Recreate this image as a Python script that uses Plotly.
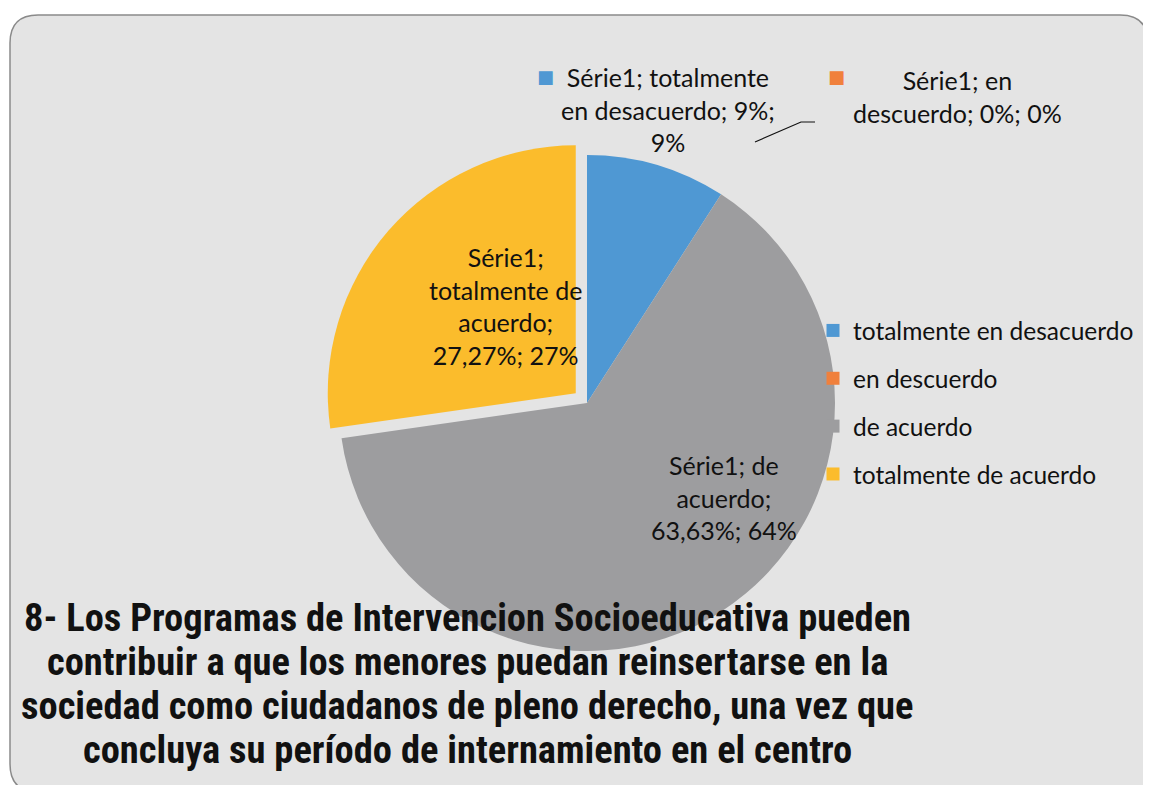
import plotly.graph_objects as go

# page is rendered with an 8px body margin, so positions below are page pixels
OFF = 8
W, H = 1151 - OFF, 785 - OFF

# data
categories = ["totalmente en desacuerdo", "en descuerdo", "de acuerdo", "totalmente de acuerdo"]
values = [9.09, 0.0, 63.63, 27.27]
pct_labels = ["9%", "0%", "63,63%", "27,27%"]
round_labels = ["9%", "0%", "64%", "27%"]
series_name = "Série1"
colors = ["#4F98D3", "#F0803C", "#9D9D9F", "#FBBC2C"]
pulls = [0, 0, 0, 0.06]

title_lines = [
    "8- Los Programas de Intervencion Socioeducativa pueden",
    "contribuir a que los menores puedan reinsertarse en la",
    "sociedad como ciudadanos de pleno derecho, una vez que",
    "concluya su período de internamiento en el centro",
]

FONT = "Lato, Open Sans, sans-serif"
TITLE_FONT = "Liberation Sans Narrow, Roboto Condensed, Lato, sans-serif"


def px(x):
    return (x - OFF) / W


def py(y):
    return 1 - (y - OFF) / H


fig = go.Figure()

# pie (center ~ (587, 403), radius ~248 px)
cx, cy, r = 587, 403, 248
half = r * (1 + max(pulls))
fig.add_trace(go.Pie(
    labels=categories, values=values, sort=False, direction="clockwise",
    rotation=0, pull=pulls, marker=dict(colors=colors, line=dict(width=0)),
    textinfo="none", hoverinfo="label+percent", showlegend=False,
    domain=dict(x=[px(cx - half), px(cx + half)], y=[py(cy + half), py(cy - half)]),
))

# legend entries (one group each so the spacing can be opened up)
for i, cat in enumerate(categories):
    fig.add_trace(go.Scatter(
        x=[None], y=[None], mode="markers", name=cat, legendgroup=cat,
        marker=dict(symbol="square", size=13, color=colors[i]),
    ))

# background panel with rounded corners
x0, y0, x1, y1, rc = px(10), py(15), px(1148), py(792), 28
path = (f"M {x0},{py(15 + rc)} Q {x0},{y0} {px(10 + rc)},{y0} "
        f"L {px(1148 - rc)},{y0} Q {x1},{y0} {x1},{py(15 + rc)} "
        f"L {x1},{y1} L {px(10 + rc)},{y1} Q {x0},{y1} {x0},{py(792 - rc)} Z")
fig.add_shape(type="path", path=path, xref="paper", yref="paper", layer="below",
              fillcolor="#E4E4E4", line=dict(color="#8A8A8A", width=1.5))

# data labels
label_specs = [
    (0, 668, 110, [f"{series_name}; totalmente", f"en desacuerdo; {pct_labels[0]};", round_labels[0]]),
    (1, 957, 96, [f"{series_name}; en", f"descuerdo; {pct_labels[1]}; {round_labels[1]}"]),
    (2, 724, 497, [f"{series_name}; de", "acuerdo;", f"{pct_labels[2]}; {round_labels[2]}"]),
    (3, 505, 306, [f"{series_name};", "totalmente de", "acuerdo;", f"{pct_labels[3]}; {round_labels[3]}"]),
]
for i, lx, ly, parts in label_specs:
    fig.add_annotation(x=px(lx), y=py(ly), xref="paper", yref="paper", showarrow=False,
                       xanchor="center", yanchor="middle",
                       text="<br>".join(parts), align="center",
                       font=dict(family=FONT, size=25, color="#111111"))

# legend keys next to the outside labels
for i, kx, ky in [(0, 545, 76), (1, 836, 76)]:
    fig.add_annotation(x=px(kx), y=py(ky), xref="paper", yref="paper", showarrow=False,
                       xanchor="center", yanchor="middle",
                       text="■", font=dict(family="DejaVu Sans", size=18, color=colors[i]))

# leader line for the small blue slice
fig.add_shape(type="path", xref="paper", yref="paper",
              path=f"M {px(755)},{py(142)} L {px(801)},{py(122)} L {px(815)},{py(122)}",
              line=dict(color="#111111", width=1.2))

# title, one line at a time to keep the tight line spacing
for k, t in enumerate(title_lines):
    fig.add_annotation(x=px(467), y=py(617 + 44 * k), xref="paper", yref="paper",
                       showarrow=False, xanchor="center", yanchor="middle",
                       text=f"<b>{t}</b>",
                       font=dict(family=TITLE_FONT, size=38.5, color="#111111"))

fig.update_layout(
    width=W, height=H, margin=dict(l=0, r=0, t=0, b=0),
    paper_bgcolor="white", plot_bgcolor="rgba(0,0,0,0)",
    xaxis=dict(visible=False), yaxis=dict(visible=False),
    legend=dict(x=px(813), y=py(308), xanchor="left", yanchor="top",
                traceorder="grouped", tracegroupgap=13, itemwidth=30,
                bgcolor="rgba(0,0,0,0)", font=dict(family=FONT, size=24.5, color="#111111")),
)

fig.write_html("out.html")
